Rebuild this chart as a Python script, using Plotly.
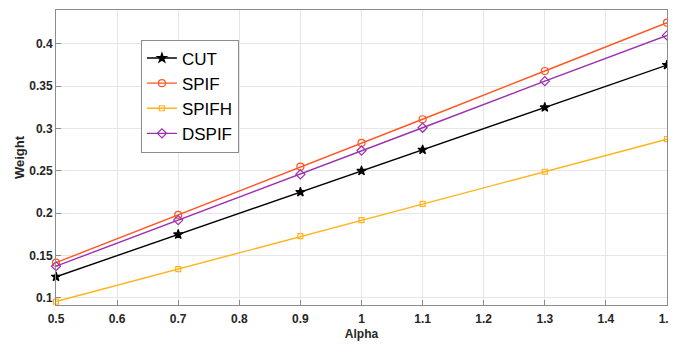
import plotly.graph_objects as go

alpha = [0.5, 0.7, 0.9, 1.0, 1.1, 1.3, 1.5]
cut = [0.125, 0.175, 0.225, 0.25, 0.275, 0.325, 0.375]
spif = [0.1417, 0.198, 0.255, 0.283, 0.311, 0.368, 0.425]
spifh = [0.0958, 0.134, 0.173, 0.192, 0.211, 0.249, 0.2875]
dspif = [0.1375, 0.192, 0.246, 0.274, 0.301, 0.356, 0.41]
x_ticks = [0.5, 0.6, 0.7, 0.8, 0.9, 1.0, 1.1, 1.2, 1.3, 1.4, 1.5]
x_tick_text = ["0.5", "0.6", "0.7", "0.8", "0.9", "1", "1.1", "1.2", "1.3", "1.4", "1.5"]
y_ticks = [0.1, 0.15, 0.2, 0.25, 0.3, 0.35, 0.4]
y_tick_text = ["0.1", "0.15", "0.2", "0.25", "0.3", "0.35", "0.4"]

series = [
    ("CUT", cut, "#000000", "star", 7),
    ("SPIF", spif, "#FF5522", "circle-open", 7),
    ("SPIFH", spifh, "#FFB31A", "square-open", 5),
    ("DSPIF", dspif, "#9B2FAE", "diamond-open", 7),
]

fig = go.Figure()
for name, ys, color, sym, size in series:
    fig.add_trace(go.Scatter(
        x=alpha, y=ys, name=name, mode="lines+markers",
        line=dict(color=color, width=1.4),
        marker=dict(symbol=sym, size=size, color=color,
                    line=dict(color=color, width=1.2)),
        cliponaxis=False,
    ))

axis_common = dict(
    showline=True, linecolor="#8c8c8c", linewidth=1, mirror=True,
    ticks="inside", ticklen=5, tickcolor="#8c8c8c",
    showgrid=True, gridcolor="#e6e6e6", gridwidth=1,
    zeroline=False, ticklabeloverflow="allow",
    tickfont=dict(family="Arial, Liberation Sans", size=12, color="#262626", weight="bold"),
)

# page body has an 8px margin: figure is offset by (8, 8)
fig.update_layout(
    width=668, height=337,
    margin=dict(l=48, r=9, t=2, b=40, autoexpand=False),
    paper_bgcolor="white", plot_bgcolor="white",
    font=dict(family="Arial, Liberation Sans", color="#262626"),
    xaxis=dict(range=[0.5, 1.5], tickvals=x_ticks, ticktext=x_tick_text,
               title=dict(text="<b>Alpha</b>", font=dict(size=12), standoff=4),
               ticklabelstandoff=3,
               **axis_common),
    yaxis=dict(range=[0.0917, 0.44], tickvals=y_ticks, ticktext=y_tick_text,
               title=dict(text="<b>Weight</b>", font=dict(size=13), standoff=1),
               **axis_common),
    legend=dict(x=0.139, y=0.9, xanchor="left", yanchor="top",
                bgcolor="white", bordercolor="#8c8c8c", borderwidth=1,
                font=dict(size=17, color="#000000"),
                itemwidth=30, tracegroupgap=0),
    showlegend=True,
)

fig.write_html("out.html")
